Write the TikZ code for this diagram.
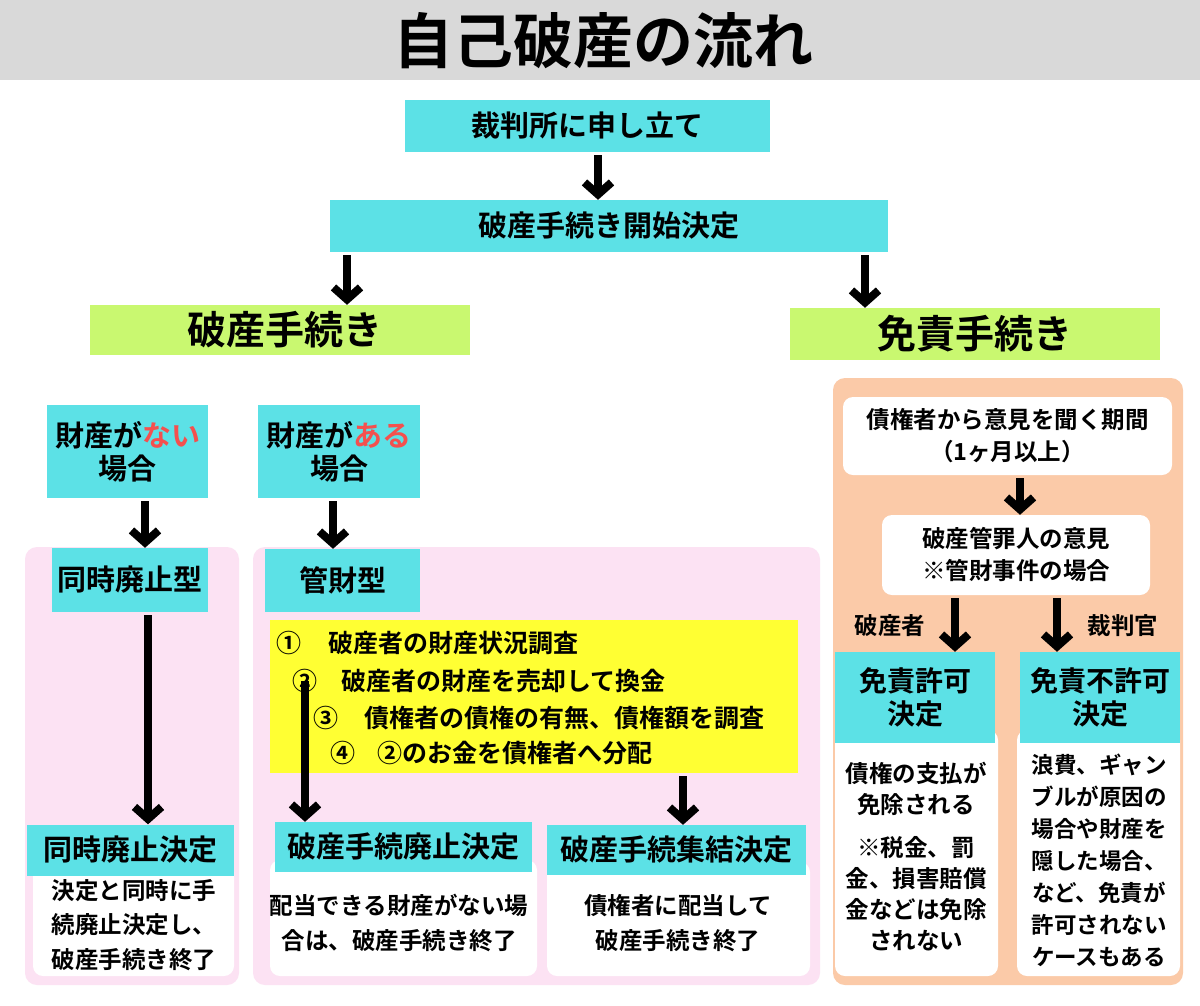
\documentclass[tikz,border=0pt]{standalone}
\usepackage{fontspec}
\setmainfont{Noto Sans CJK JP}[BoldFont={* Bold}]
\usetikzlibrary{arrows.meta}

\definecolor{cyanfill}{HTML}{5CE1E6}
\definecolor{greenfill}{HTML}{C9F870}
\definecolor{pinkfill}{HTML}{FCE2F3}
\definecolor{peachfill}{HTML}{FBCAA8}
\definecolor{yellowfill}{HTML}{FFFF33}
\definecolor{titlegray}{HTML}{D9D9D9}
\definecolor{redtext}{HTML}{F4504E}

\tikzset{
  box/.style={fill=cyanfill, inner sep=0pt, align=center, font=\bfseries\fontsize{29}{33}\selectfont},
  phase/.style={fill=greenfill, inner sep=0pt, font=\bfseries\fontsize{39}{44}\selectfont},
  card/.style={fill=white, rounded corners=10pt, inner sep=0pt, align=center, font=\bfseries\fontsize{23.5}{32}\selectfont},
  note/.style={align=center, inner sep=0pt, font=\bfseries\fontsize{23.5}{34.5}\selectfont},
  num/.style={inner sep=0pt, font=\bfseries\fontsize{25}{30}\selectfont},
  item/.style={anchor=west, inner sep=0pt, font=\bfseries\fontsize{25}{30}\selectfont},
  arr/.style={line width=8pt, shorten <=3pt, -{Straight Barb[length=12pt,width=27pt]}},
}

\begin{document}
\begin{tikzpicture}[x=1pt,y=-1pt]
\useasboundingbox (0,0) rectangle (1200,1005);
\fill[white] (0,0) rectangle (1200,1005);

% title bar
\fill[titlegray] (0,0) rectangle (1200,80);
\node[font=\bfseries\fontsize{60}{66}\selectfont] (title) at (603,41) {自己破産の流れ};

% panels
\fill[pinkfill, rounded corners=12pt] (25,547) rectangle (239,985);
\fill[pinkfill, rounded corners=12pt] (253,547) rectangle (820,985);
\fill[peachfill, rounded corners=12pt] (833,378) rectangle (1183,985);

% white backs under the decisions
\fill[white, rounded corners=10pt] (33,862) rectangle (234,976);
\fill[white, rounded corners=10pt] (270,860) rectangle (537,976);
\fill[white, rounded corners=10pt] (547,862) rectangle (810,976);
\fill[white, rounded corners=10pt] (835,730) rectangle (998,976);
\fill[white, rounded corners=10pt] (1017,730) rectangle (1180,976);

% start of the flow
\node[box, minimum width=365pt, minimum height=52pt] (court) at (587.5,126) {裁判所に申し立て};
\node[box, minimum width=558pt, minimum height=52pt] (start) at (609,226) {破産手続き開始決定};
\node[phase, minimum width=380pt, minimum height=50pt] (bankrupt) at (280,330) {\hspace{10pt}破産手続き};
\node[phase, minimum width=370pt, minimum height=52pt] (discharge) at (975,334) {免責手続き};

% bankruptcy side
\node[box, minimum width=161pt, minimum height=93pt] (noAsset) at (127.5,451.5) {財産が{\color{redtext}ない}\\場合};
\node[box, minimum width=162pt, minimum height=93pt] (withAsset) at (339,451.5) {財産が{\color{redtext}ある}\\場合};
\node[box, minimum width=156pt, minimum height=64pt] (dojiType) at (130,580) {同時廃止型};
\node[box, minimum width=155pt, minimum height=63pt] (kanzaiType) at (342.5,580.5) {管財型};

\node[fill=yellowfill, minimum width=528pt, minimum height=153pt, inner sep=0pt] (tasks) at (534,696.5) {};
\node[num] (num1) at (289,643) {①};
\node[item] (item1) at (328,643) {破産者の財産状況調査};
\node[num] (num2) at (305,681) {②};
\node[item] (item2) at (341,681) {破産者の財産を売却して換金};
\node[num] (num3) at (326,718) {③};
\node[item] (item3) at (364,718) {債権者の債権の有無、債権額を調査};
\node[num] (num4) at (343,753) {④};
\node[item] (item4) at (377,753) {②のお金を債権者へ分配};

\node[box, minimum width=207pt, minimum height=51pt] (dojiEnd) at (130.5,850) {同時廃止決定};
\node[box, minimum width=257pt, minimum height=50pt] (abolish) at (403.5,847) {破産手続廃止決定};
\node[box, minimum width=259pt, minimum height=50pt] (conclude) at (676.5,850) {破産手続集結決定};
\node[note] (dojiNote) at (134,925) {決定と同時に手\\続廃止決定し、\\破産手続き終了};
\node[note] (abolishNote) at (399,923) {配当できる財産がない場\\合は、破産手続き終了};
\node[note] (concludeNote) at (678,923) {債権者に配当して\\破産手続き終了};

% discharge side
\node[card, minimum width=329pt, minimum height=78pt] (opinion) at (1007.5,436) {債権者から意見を聞く期間\\（1ヶ月以上）};
\node[card, minimum width=268pt, minimum height=80pt] (trustee) at (1016,555) {破産管罪人の意見\\※管財事件の場合};
\node[note] (debtorLbl) at (890,626) {破産者};
\node[note] (judgeLbl) at (1123,626) {裁判官};
\node[box, font=\bfseries\fontsize{28}{33}\selectfont, minimum width=160pt, minimum height=91pt] (grant) at (915,697.5) {免責許可\\決定};
\node[box, font=\bfseries\fontsize{28}{33}\selectfont, minimum width=160pt, minimum height=91pt] (deny) at (1100,697.5) {免責不許可\\決定};
\node[note, font=\bfseries\fontsize{23.5}{31}\selectfont] (grantNote) at (916,857) {債権の支払が\\免除される\\[12pt]※税金、罰\\金、損害賠償\\金などは免除\\されない};
\node[note, font=\bfseries\fontsize{22.5}{32}\selectfont] (denyNote) at (1099,860) {浪費、ギャン\\ブルが原因の\\場合や財産を\\隠した場合、\\など、免責が\\許可されない\\ケースもある};

% arrows
\draw[arr] ([xshift=10.5pt]court.south) -- ([xshift=-11pt]start.north);
\draw[arr] ([xshift=-262pt]start.south) -- ([xshift=67pt]bankrupt.north);
\draw[arr] ([xshift=256pt]start.south) -- ([xshift=-110pt]discharge.north);
\draw[arr] ([xshift=17.5pt]noAsset.south) -- ([xshift=15pt]dojiType.north);
\draw[arr] ([xshift=-6pt]withAsset.south) -- ([xshift=-9.5pt]kanzaiType.north);
\draw[arr] ([xshift=18pt]dojiType.south) -- ([xshift=17.5pt]dojiEnd.north);
\draw[arr, shorten <=0pt] (num2.center) -- (abolish.north -| num2.center);
\draw[arr] ([xshift=149pt]tasks.south) -- ([xshift=6.5pt]conclude.north);
\draw[arr] ([xshift=12.5pt]opinion.south) -- ([xshift=4pt]trustee.north);
\draw[arr] ([xshift=-61pt]trustee.south) -- ([xshift=40pt]grant.north);
\draw[arr] ([xshift=41pt]trustee.south) -- ([xshift=-43pt]deny.north);
\end{tikzpicture}
\end{document}
